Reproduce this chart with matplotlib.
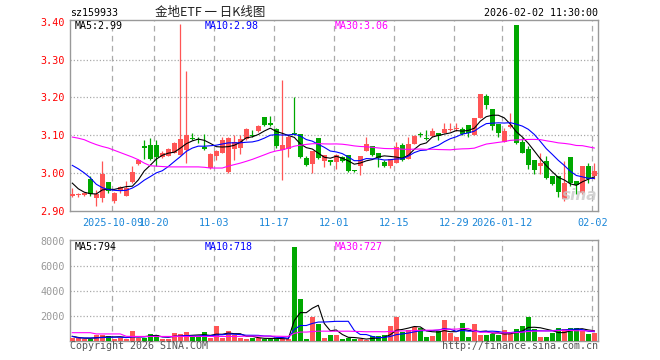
import numpy as np
import pandas as pd
import matplotlib
matplotlib.use('Agg')
import matplotlib.pyplot as plt

plt.rcParams['font.family'] = ['DejaVu Sans Mono']

# 日K数据 (2025-09-22 ... 2026-02-02)
open_ = [2.940, 2.942, 2.942, 2.984, 2.934, 2.934, 2.976, 2.926, 2.956, 2.939,
         2.975, 3.024, 3.072, 3.075, 3.075, 3.042, 3.046, 3.054, 3.048, 3.060,
         3.093, 3.089, 3.070, 3.013, 3.046, 3.053, 3.002, 3.063, 3.066, 3.089,
         3.101, 3.110, 3.147, 3.131, 3.116, 3.061, 3.063, 3.105, 3.104, 3.040,
         3.024, 3.092, 3.031, 3.035, 3.028, 3.041, 3.048, 3.009, 3.018, 3.057,
         3.072, 3.054, 3.028, 3.018, 3.025, 3.075, 3.037, 3.077, 3.102, 3.093,
         3.098, 3.105, 3.107, 3.114, 3.116, 3.116, 3.127, 3.101, 3.145, 3.204,
         3.168, 3.130, 3.083, 3.121, 3.393, 3.081, 3.063, 3.035, 3.019, 3.031,
         2.991, 2.991, 2.930, 3.041, 2.978, 2.946, 3.018, 2.991]
high = [2.960, 2.948, 2.950, 2.991, 2.956, 3.031, 2.976, 2.950, 2.965, 2.979,
        3.018, 3.037, 3.088, 3.093, 3.088, 3.057, 3.066, 3.081, 3.395, 3.270,
        3.105, 3.096, 3.104, 3.053, 3.061, 3.095, 3.096, 3.101, 3.101, 3.118,
        3.113, 3.127, 3.147, 3.151, 3.118, 3.247, 3.101, 3.202, 3.104, 3.044,
        3.057, 3.092, 3.048, 3.035, 3.050, 3.045, 3.048, 3.009, 3.044, 3.094,
        3.072, 3.054, 3.035, 3.037, 3.081, 3.079, 3.094, 3.101, 3.109, 3.115,
        3.118, 3.105, 3.132, 3.132, 3.132, 3.121, 3.127, 3.145, 3.209, 3.209,
        3.168, 3.130, 3.118, 3.158, 3.393, 3.092, 3.072, 3.035, 3.053, 3.046,
        2.991, 2.991, 3.031, 3.041, 2.978, 3.018, 3.026, 3.026]
low = [2.937, 2.937, 2.940, 2.938, 2.913, 2.923, 2.947, 2.921, 2.946, 2.939,
       2.973, 3.020, 3.037, 3.035, 3.018, 3.040, 3.044, 3.052, 3.048, 3.025,
       3.086, 3.079, 3.061, 3.011, 3.035, 3.053, 3.000, 3.035, 3.051, 3.087,
       3.095, 3.108, 3.124, 3.124, 3.066, 2.982, 3.042, 3.101, 3.039, 3.019,
       3.000, 3.037, 3.015, 3.022, 3.010, 3.028, 3.002, 3.003, 2.994, 3.057,
       3.046, 3.016, 3.016, 3.013, 3.025, 3.031, 3.037, 3.077, 3.096, 3.087,
       3.096, 3.088, 3.105, 3.110, 3.111, 3.101, 3.096, 3.101, 3.145, 3.169,
       3.114, 3.096, 3.083, 3.118, 3.076, 3.052, 3.011, 2.998, 2.998, 2.984,
       2.969, 2.937, 2.926, 2.965, 2.943, 2.943, 2.974, 2.984]
close = [2.945, 2.944, 2.947, 2.943, 2.943, 2.998, 2.952, 2.946, 2.962, 2.961,
         3.003, 3.035, 3.066, 3.037, 3.042, 3.054, 3.063, 3.079, 3.090, 3.101,
         3.091, 3.087, 3.063, 3.050, 3.057, 3.086, 3.092, 3.081, 3.090, 3.116,
         3.099, 3.123, 3.127, 3.128, 3.072, 3.075, 3.094, 3.102, 3.042, 3.022,
         3.057, 3.039, 3.048, 3.029, 3.048, 3.031, 3.004, 3.004, 3.044, 3.077,
         3.048, 3.039, 3.018, 3.037, 3.068, 3.033, 3.077, 3.098, 3.100, 3.089,
         3.111, 3.098, 3.116, 3.116, 3.120, 3.104, 3.107, 3.145, 3.209, 3.180,
         3.123, 3.107, 3.110, 3.127, 3.079, 3.054, 3.022, 3.009, 3.025, 2.987,
         2.972, 2.949, 2.974, 2.974, 2.967, 3.018, 2.984, 3.004]
volume = [210, 210, 160, 160, 430, 430, 350, 130, 240, 160,
          750, 240, 240, 500, 430, 130, 130, 590, 500, 670,
          270, 270, 670, 240, 1150, 240, 750, 430, 210, 130,
          240, 210, 160, 160, 160, 130, 130, 7470, 3330, 130,
          1890, 1330, 190, 430, 430, 110, 190, 110, 160, 80,
          370, 350, 430, 1150, 1870, 690, 880, 1070, 1010, 270,
          350, 750, 1630, 590, 270, 1390, 270, 1310, 430, 450,
          530, 430, 830, 530, 910, 1150, 1870, 910, 330, 330,
          620, 1050, 900, 1000, 1050, 780, 560, 580]

# 均线开头几根的值 (窗口之前的数据不在图里, 直接读图)
ma5_head = [2.973, 2.958, 2.949, 2.945]
ma10_head = [3.020, 3.011, 3.000, 2.987, 2.970, 2.961, 2.956, 2.954, 2.953]
ma30_head = [3.095, 3.092, 3.088, 3.081, 3.075, 3.070, 3.066, 3.060, 3.054, 3.048,
             3.042, 3.035, 3.026, 3.019, 3.018, 3.017, 3.016, 3.016, 3.016, 3.016,
             3.016, 3.016, 3.015, 3.013, 3.013, 3.013, 3.018, 3.022, 3.026]
vma5_head = [350, 260, 200, 190]
vma10_head = [340, 230, 220, 220, 230, 250, 270, 280, 280]
vma30_head = [640, 640, 640, 640, 540, 540, 540, 540, 540, 350,
              340, 340, 340, 340, 340, 340, 340, 340, 340, 340,
              340, 340, 340, 340, 340, 340, 340, 340, 345]

tick_idx = [7, 14, 24, 34, 44, 54, 64, 72, 87]
tick_labels = ['2025-10-09', '10-20', '11-03', '11-17', '12-01', '12-15',
               '12-29', '2026-01-12', '02-02']

ma_price_txt = ['MA5:2.99', 'MA10:2.98', 'MA30:3.06']
ma_vol_txt = ['MA5:794', 'MA10:718', 'MA30:727']

RED = '#ff5555'
GREEN = '#00a800'
GRID = '#aaaaaa'
ma_colors = ['black', '#0000ff', '#ff00ff']


def moving_avg(values, n, head):
    out = pd.Series(values, dtype=float).rolling(n).mean().to_numpy()
    out[:n - 1] = head
    return out


W, H = 660, 360
fig = plt.figure(figsize=(6.6, 3.6), dpi=100)


def px_axes(x0, y0, x1, y1):
    return fig.add_axes([x0 / W, 1 - y1 / H, (x1 - x0) / W, (y1 - y0) / H])


ax = px_axes(70, 20, 597.7, 210.7)
axv = px_axes(70, 240, 597.7, 340.7)

x = np.arange(len(close))
o = np.array(open_)
c = np.array(close)
colors = [RED if cc >= oo else GREEN for oo, cc in zip(o, c)]

# K线
ax.vlines(x, low, high, colors=colors, lw=0.9, zorder=3)
body = np.maximum(np.abs(c - o), 0.0018)
ax.bar(x, body, bottom=np.minimum(o, c), width=0.78, color=colors, zorder=3)

ma5 = moving_avg(close, 5, ma5_head)
ma10 = moving_avg(close, 10, ma10_head)
ma30 = moving_avg(close, 30, ma30_head)
for m, col in zip([ma5, ma10, ma30], ma_colors):
    ax.plot(x, m, color=col, lw=0.8, zorder=4)

# 成交量
axv.bar(x, volume, width=0.8, color=colors, zorder=3)
vma5 = moving_avg(volume, 5, vma5_head)
vma10 = moving_avg(volume, 10, vma10_head)
vma30 = moving_avg(volume, 30, vma30_head)
for m, col in zip([vma5, vma10, vma30], ma_colors):
    axv.plot(x, m, color=col, lw=0.8, zorder=4)

xlim = (-0.383, 87.57)
for a in (ax, axv):
    a.set_xlim(*xlim)
    for s in a.spines.values():
        s.set_color('#999999')
        s.set_linewidth(1)
    for t in tick_idx:
        a.axvline(t - 0.33, color=GRID, lw=0.9, dashes=(4.5, 3.5), zorder=1)

ax.set_ylim(2.90, 3.405)
ax.set_yticks([2.90, 3.00, 3.10, 3.20, 3.30, 3.40])
ax.set_yticklabels(['%.2f' % v for v in [2.90, 3.00, 3.10, 3.20, 3.30, 3.40]])
ax.tick_params(axis='y', colors='red', length=0, pad=3.5, labelsize=7.3)
for v in [3.00, 3.10, 3.20, 3.30]:
    ax.axhline(v, color=GRID, lw=0.9, dashes=(1, 1.6), zorder=1)
ax.set_xticks(np.array(tick_idx) - 0.33)
ax.set_xticklabels(tick_labels)
ax.tick_params(axis='x', colors='#1a86d8', length=0, pad=5, labelsize=7.3)

axv.set_ylim(0, 8040)
axv.set_yticks([2000, 4000, 6000, 8000])
axv.set_yticklabels(['2000', '4000', '6000', '8000'])
axv.tick_params(axis='y', colors='#999999', length=0, pad=3.5, labelsize=7.3)
axv.set_xticks([])
for v in [2000, 4000, 6000]:
    axv.axhline(v, color=GRID, lw=0.9, dashes=(1, 1.6), zorder=1)


def ftext(px, py, s, **kw):
    fig.text(px / W, 1 - py / H, s, va='center', **kw)


ftext(70, 13.3, 'sz159933', fontsize=7.2, color='black')
ftext(210, 12.7, '金地ETF 一 日K线图', fontsize=9, ha='center', color='#222222',
      family=['Noto Sans CJK SC', 'DejaVu Sans'])
ftext(597.7, 12.7, '2026-02-02 11:30:00', fontsize=7.2, ha='right', color='black')

for px, s, col in zip([74.7, 204.7, 334.7], ma_price_txt, ma_colors):
    ftext(px, 26.3, s, fontsize=7.2, color=col)
for px, s, col in zip([74.7, 204.7, 334.7], ma_vol_txt, ma_colors):
    ftext(px, 246.5, s, fontsize=7.2, color=col)

ftext(70, 346, 'Copyright 2026 SINA.COM', fontsize=7.2, color='#555555')
ftext(597.7, 346, 'http://finance.sina.com.cn', fontsize=7.2, ha='right', color='#555555')

# 水印
ftext(580, 196, 'sina', fontsize=11, ha='center', color='#c8c8c8', style='italic',
      weight='bold', family=['DejaVu Sans'], alpha=0.8)

fig.savefig('out.png', dpi=100)
